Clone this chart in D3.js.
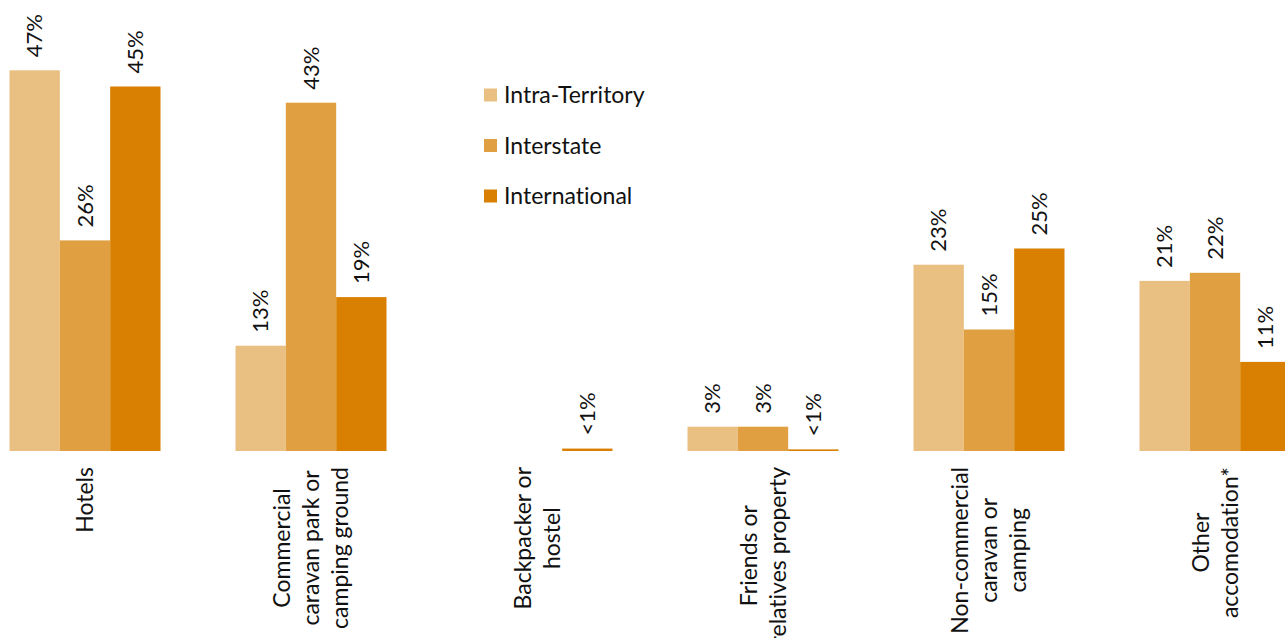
<!DOCTYPE html>
<html>
<head>
<meta charset="utf-8">
<script src="https://cdn.jsdelivr.net/npm/d3@7"></script>
<style>
  html, body { margin: 0; padding: 0; background: #fff; }
  svg { display: block; font-family: Lato, "Open Sans", sans-serif; font-variant-ligatures: none; font-feature-settings: "liga" 0; }
</style>
</head>
<body>
<svg id="chart" width="1285" height="638"></svg>
<script>
// Accommodation type by visitor origin (share of visitors, %)
const categories = [
  ["Hotels"],
  ["Commercial", "caravan park or", "camping ground"],
  ["Backpacker or", "hostel"],
  ["Friends or", "relatives property"],
  ["Non-commercial", "caravan or", "camping"],
  ["Other", "accomodation*"]
];
const seriesNames = ["Intra-Territory", "Interstate", "International"];
const intraTerritory = [47, 13, 0, 3, 23, 21];
const interstate     = [26, 43, 0, 3, 15, 22];
const international  = [45, 19, 0.3, 0.2, 25, 11];
const colors = ["#EABF82", "#E09F41", "#D98002"];

const seriesValues = [intraTerritory, interstate, international];
const keys = categories.map(c => c.join(" "));

const svg = d3.select("#chart");
const baseline = 451;

const x0 = d3.scaleBand()
  .domain(keys)
  .range([-28, 1328])
  .paddingInner(75 / 226)
  .paddingOuter(75 / 452);

const x1 = d3.scaleBand()
  .domain(seriesNames)
  .range([0, x0.bandwidth()]);

const y = d3.scaleLinear()
  .domain([0, 50])
  .range([baseline, baseline - 50 * 8.1]);

const fmt = v => v < 1 ? "<1%" : d3.format("d")(v) + "%";

const groups = svg.append("g")
  .selectAll("g")
  .data(keys)
  .join("g")
  .attr("transform", d => `translate(${x0(d)},0)`);

const cells = groups.selectAll("g.cell")
  .data((k, i) => seriesNames.map((s, j) => ({ series: s, value: seriesValues[j][i], color: colors[j] })))
  .join("g")
  .attr("class", "cell");

cells.filter(d => d.value > 0)
  .append("rect")
  .attr("x", d => x1(d.series))
  .attr("width", x1.bandwidth())
  .attr("y", d => y(d.value))
  .attr("height", d => baseline - y(d.value))
  .attr("fill", d => d.color);

// rotated value labels above each bar
cells.filter(d => d.value > 0)
  .append("text")
  .attr("transform", d => `translate(${x1(d.series) + x1.bandwidth() / 2},${y(d.value) - 13}) rotate(-90)`)
  .attr("dy", "0.35em")
  .attr("text-anchor", "start")
  .attr("font-size", 22)
  .attr("fill", "#111")
  .text(d => fmt(d.value));

// rotated, wrapped category labels below the baseline
const labelTop = 467;
const lineGap = 29;
groups.each(function (k, i) {
  const lines = categories[i];
  const g = d3.select(this);
  const cx = x0.bandwidth() / 2;
  const texts = lines.map((line, j) => g.append("text")
    .attr("font-size", 23)
    .attr("fill", "#111")
    .attr("text-anchor", "middle")
    .attr("dy", "0.35em")
    .text(line));
  const maxLen = d3.max(texts, t => t.node().getComputedTextLength());
  const cy = labelTop + maxLen / 2;
  texts.forEach((t, j) => {
    const lx = cx + (j - (lines.length - 1) / 2) * lineGap;
    t.attr("transform", `translate(${lx},${cy}) rotate(-90)`);
  });
});

// legend
const legend = svg.append("g")
  .selectAll("g")
  .data(seriesNames)
  .join("g")
  .attr("transform", (d, i) => `translate(484,${95 + i * 50.5})`);

legend.append("rect")
  .attr("x", 0)
  .attr("y", -6.5)
  .attr("width", 13)
  .attr("height", 13)
  .attr("fill", (d, i) => colors[i]);

legend.append("text")
  .attr("x", 20)
  .attr("dy", "0.35em")
  .attr("font-size", 23)
  .attr("fill", "#111")
  .text(d => d);
</script>
</body>
</html>
